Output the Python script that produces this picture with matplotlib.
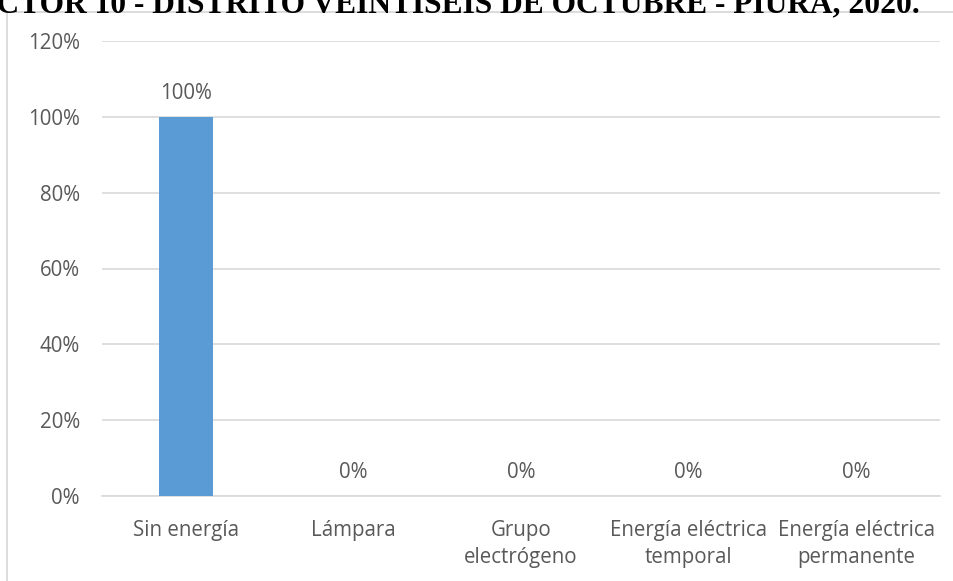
import matplotlib
matplotlib.use("Agg")
import matplotlib.pyplot as plt
from matplotlib.patches import Rectangle
from matplotlib.ticker import FuncFormatter

# Tipo de alumbrado en las viviendas
categorias = ["Sin energía", "Lámpara", "Grupo\nelectrógeno",
              "Energía eléctrica\ntemporal", "Energía eléctrica\npermanente"]
porcentajes = [100, 0, 0, 0, 0]
ticks_y = [0, 20, 40, 60, 80, 100, 120]
titulo = "SECTOR 10 - DISTRITO VEINTISEIS DE OCTUBRE - PIURA, 2020."

W, H = 954, 581
fig = plt.figure(figsize=(W / 100, H / 100), dpi=100)
fig.patch.set_facecolor("white")

texto = "#595959"
rejilla = "#D9D9D9"
azul = "#5B9BD5"
fuente = ["Open Sans", "DejaVu Sans"]
tam = 14.8

# marco del área del gráfico
fig.patches.append(Rectangle((7.5 / W, -0.05), 1.2, 1 - 12.5 / H + 0.05,
                             transform=fig.transFigure, fill=False,
                             edgecolor=rejilla, linewidth=1.3, zorder=0))

ax = fig.add_axes([102 / W, 1 - 496 / H, (940 - 102) / W, (496 - 41) / H])
x = range(len(categorias))
barras = ax.bar(x, porcentajes, width=0.32, color=azul, zorder=3)

ax.set_xlim(-0.5, len(categorias) - 0.5)
ax.set_ylim(0, 120)
ax.set_yticks(ticks_y)
ax.yaxis.set_major_formatter(FuncFormatter(lambda v, p: f"{v:.0f}%"))
ax.set_xticks(list(x))
ax.set_xticklabels(categorias, linespacing=1.33)
ax.grid(axis="y", color=rejilla, linewidth=1.2, zorder=0)
ax.set_axisbelow(True)
for lado in ["top", "right", "left"]:
    ax.spines[lado].set_visible(False)
ax.spines["bottom"].set_color(rejilla)
ax.spines["bottom"].set_linewidth(1.2)
ax.tick_params(axis="both", length=0, colors=texto, labelsize=tam)
ax.tick_params(axis="y", pad=16)
ax.tick_params(axis="x", pad=17.5)
for t in ax.get_xticklabels() + ax.get_yticklabels():
    t.set_family(fuente)

for xi, v in zip(x, porcentajes):
    ax.annotate(f"{v}%", (xi, v), xytext=(0, 9), textcoords="offset points",
                ha="center", va="bottom", color=texto, fontsize=tam,
                family=fuente)

fig.text(920 / W, 1 - 12.5 / H, titulo, ha="right", va="baseline",
         fontsize=22.7, fontweight="bold", family="Liberation Serif",
         color="black")

fig.savefig("out.png", dpi=100, facecolor="white")
